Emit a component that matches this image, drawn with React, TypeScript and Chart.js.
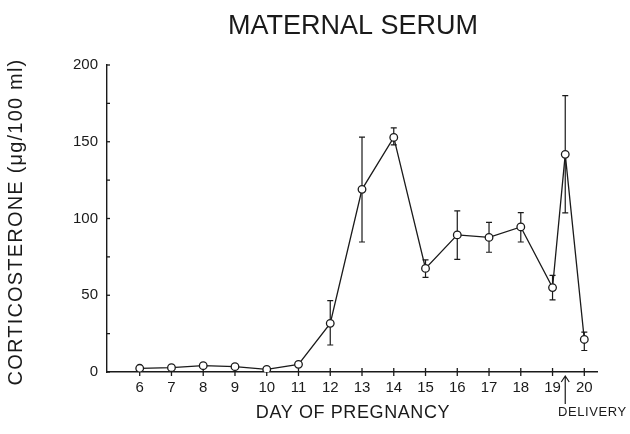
import React, { useEffect, useRef } from "react";
import { Chart, registerables } from "chart.js";

Chart.register(...registerables);

const days = [6, 7, 8, 9, 10, 11, 12, 13, 14, 15, 16, 17, 18, 19, 19.4, 20];
const means = [2.4, 2.8, 4.1, 3.5, 1.7, 5, 31.7, 119, 152.8, 67.5, 89.3, 87.7, 94.5, 55, 141.8, 21.2];
const errHigh: (number | null)[] = [null, null, null, null, null, null, 46.5, 153, 159, 73, 105, 97.5, 103.8, 63, 180, 26];
const errLow: (number | null)[] = [null, null, null, null, null, null, 17.6, 84.7, 148, 61.7, 73.4, 78, 84.7, 47, 103.6, 14];
const xTickValues = [6, 7, 8, 9, 10, 11, 12, 13, 14, 15, 16, 17, 18, 19, 20];
const yTickValues = [0, 50, 100, 150, 200];
const yMinorTicks = [25, 75, 125, 175];
const deliveryDay = 19.4;

const titleText = "MATERNAL SERUM";
const xTitle = "DAY OF PREGNANCY";
const yTitle = "CORTICOSTERONE (\u03bcg/100 ml)";
const deliveryText = "DELIVERY";

const FONT = "'Liberation Sans', Arial, sans-serif";
const INK = "#1a1a1a";

const decorPlugin = {
  id: "decor",
  beforeDatasetsDraw(chart: any) {
    const ctx = chart.ctx;
    const xs = chart.scales.x;
    const ys = chart.scales.y;
    ctx.save();
    ctx.strokeStyle = INK;
    ctx.lineWidth = 1.2;
    days.forEach((d, i) => {
      const hi = errHigh[i];
      const lo = errLow[i];
      if (hi == null || lo == null) return;
      const px = xs.getPixelForValue(d);
      const pyH = ys.getPixelForValue(hi);
      const pyL = ys.getPixelForValue(lo);
      ctx.beginPath();
      ctx.moveTo(px, pyH);
      ctx.lineTo(px, pyL);
      ctx.moveTo(px - 3, pyH);
      ctx.lineTo(px + 3, pyH);
      ctx.moveTo(px - 3, pyL);
      ctx.lineTo(px + 3, pyL);
      ctx.stroke();
    });
    const axisY = ys.getPixelForValue(0);
    ctx.lineWidth = 1.3;
    xTickValues.forEach((v) => {
      const px = xs.getPixelForValue(v);
      ctx.beginPath();
      ctx.moveTo(px, axisY - 4);
      ctx.lineTo(px, axisY + 4);
      ctx.stroke();
    });
    const axisX = xs.left;
    yTickValues.concat(yMinorTicks).forEach((v) => {
      const py = ys.getPixelForValue(v);
      ctx.beginPath();
      ctx.moveTo(axisX, py);
      ctx.lineTo(axisX + 3, py);
      ctx.stroke();
    });
    ctx.restore();
  },
  afterDraw(chart: any) {
    const ctx = chart.ctx;
    const xs = chart.scales.x;
    const area = chart.chartArea;
    ctx.save();
    ctx.fillStyle = INK;
    ctx.strokeStyle = INK;
    ctx.textAlign = "center";
    ctx.textBaseline = "middle";
    // title
    ctx.font = `27px ${FONT}`;
    ctx.fillText(titleText, 353, 27);
    // x title
    ctx.font = `18px ${FONT}`;
    (ctx as any).letterSpacing = "0.6px";
    ctx.fillText(xTitle, 353, 413);
    // y title
    ctx.save();
    ctx.translate(16, 222);
    ctx.rotate(-Math.PI / 2);
    ctx.font = `20px ${FONT}`;
    (ctx as any).letterSpacing = "1.2px";
    ctx.fillText(yTitle, 0, 0);
    ctx.restore();
    // delivery arrow
    const dx = xs.getPixelForValue(deliveryDay);
    const top = area.bottom + 4;
    ctx.lineWidth = 1.2;
    ctx.beginPath();
    ctx.moveTo(dx, top);
    ctx.lineTo(dx, top + 28);
    ctx.moveTo(dx - 4, top + 6);
    ctx.lineTo(dx, top);
    ctx.lineTo(dx + 4, top + 6);
    ctx.stroke();
    ctx.font = `13px ${FONT}`;
    (ctx as any).letterSpacing = "0.6px";
    ctx.textAlign = "left";
    ctx.fillText(deliveryText, 558, 412);
    ctx.restore();
  },
};

export default function App() {
  const ref = useRef<HTMLCanvasElement>(null);
  useEffect(() => {
    const chart = new Chart(ref.current as HTMLCanvasElement, {
      type: "line",
      data: {
        datasets: [
          {
            data: days.map((d, i) => ({ x: d, y: means[i] })),
            borderColor: INK,
            borderWidth: 1.3,
            backgroundColor: "#ffffff",
            pointBackgroundColor: "#ffffff",
            pointBorderColor: INK,
            pointBorderWidth: 1.3,
            pointRadius: 3.8,
            tension: 0,
            fill: false,
          },
        ],
      },
      options: {
        animation: false,
        responsive: false,
        maintainAspectRatio: false,
        layout: { padding: { top: 65, right: 33, left: 0, bottom: 0 } },
        plugins: { legend: { display: false }, tooltip: { enabled: false }, title: { display: false } },
        scales: {
          x: {
            type: "linear",
            min: 4.97,
            max: 20.4,
            afterBuildTicks: (s: any) => {
              s.ticks = xTickValues.map((v) => ({ value: v }));
            },
            afterFit: (s: any) => {
              s.height = 62;
            },
            grid: { display: false, drawTicks: false },
            border: { display: true, color: INK, width: 1.4 },
            ticks: {
              color: INK,
              padding: 7,
              font: { family: FONT, size: 15 },
              maxRotation: 0,
              autoSkip: false,
              callback: (v: any) => String(v),
            },
          },
          y: {
            type: "linear",
            min: 0,
            max: 200,
            afterBuildTicks: (s: any) => {
              s.ticks = yTickValues.map((v) => ({ value: v }));
            },
            afterFit: (s: any) => {
              s.width = 107;
            },
            grid: { display: false, drawTicks: false },
            border: { display: true, color: INK, width: 1.4 },
            ticks: {
              color: INK,
              padding: 9,
              font: { family: FONT, size: 15 },
              callback: (v: any) => String(v),
            },
          },
        },
      },
      plugins: [decorPlugin],
    });
    return () => chart.destroy();
  }, []);
  return (
    <div style={{ position: "fixed", left: 0, top: 0, width: 630, height: 434, background: "#fff" }}>
      <canvas ref={ref} width={630} height={434} style={{ display: "block" }} />
    </div>
  );
}
